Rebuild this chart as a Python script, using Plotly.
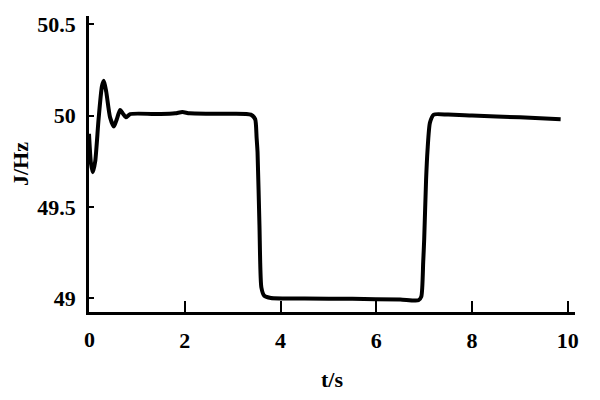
import plotly.graph_objects as go

t = [0.0, 0.04, 0.08, 0.13, 0.2, 0.27, 0.31, 0.36, 0.44, 0.52, 0.58, 0.65, 0.71, 0.77, 0.86,
     1.5, 1.8, 1.95, 2.1, 2.5, 3.0, 3.38, 3.47, 3.50, 3.52, 3.56, 3.60, 3.66, 3.8,
     4.5, 5.5, 6.5, 6.88, 6.94, 6.98, 7.0, 7.04, 7.07, 7.12, 7.2, 7.5, 8.0, 9.0, 9.85]
f = [49.90, 49.74, 49.69, 49.75, 49.98, 50.16, 50.19, 50.13, 49.99, 49.94, 49.98, 50.03, 50.01, 49.99, 50.008,
     50.008, 50.012, 50.019, 50.012, 50.01, 50.01, 50.005, 49.98, 49.88, 49.80, 49.40, 49.06, 49.015, 49.003,
     49.0, 48.998, 48.994, 48.99, 49.01, 49.2, 49.32, 49.65, 49.81, 49.96, 50.005, 50.005, 50.0, 49.99, 49.98]

x_ticks = [2, 4, 6, 8, 10]
x_labels = ["2", "4", "6", "8", "10"]
y_ticks = [49, 49.5, 50, 50.5]
y_labels = ["49", "49.5", "50", "50.5"]

font_family = "Liberation Serif"
FS = 22

fig = go.Figure()
fig.add_trace(go.Scatter(x=t, y=f, mode="lines",
                         line=dict(color="black", width=4, shape="spline", smoothing=0.6),
                         hoverinfo="skip"))

fig.add_annotation(x=0, y=0, xref="paper", yref="paper", text="0", showarrow=False,
                   xanchor="center", yanchor="top", yshift=-13,
                   font=dict(family=font_family, size=FS, color="black", weight="bold"))

fig.update_layout(
    width=592, height=392,
    margin=dict(l=81, r=25, t=8, b=88),
    plot_bgcolor="white", paper_bgcolor="white",
    showlegend=False,
    xaxis=dict(range=[0, 10.15], tickvals=x_ticks, ticktext=x_labels, automargin=False,
               showline=True, linecolor="black", linewidth=2.5,
               ticks="inside", ticklen=11, tickwidth=2, tickcolor="black",
               showgrid=False, zeroline=False, ticklabelstandoff=7,
               tickfont=dict(family=font_family, size=FS, color="black", weight="bold"),
               title=dict(text="t/s", standoff=20,
                          font=dict(family=font_family, size=FS, color="black", weight="bold"))),
    yaxis=dict(range=[48.926, 50.544], tickvals=y_ticks, ticktext=y_labels, automargin=False,
               showline=True, linecolor="black", linewidth=2.5,
               ticks="inside", ticklen=5, tickwidth=2, tickcolor="black",
               showgrid=False, zeroline=False, ticklabelstandoff=6,
               tickfont=dict(family=font_family, size=FS, color="black", weight="bold"),
               title=dict(text="J/Hz", standoff=12,
                          font=dict(family=font_family, size=FS, color="black", weight="bold"))),
)

fig.write_html("out.html")
